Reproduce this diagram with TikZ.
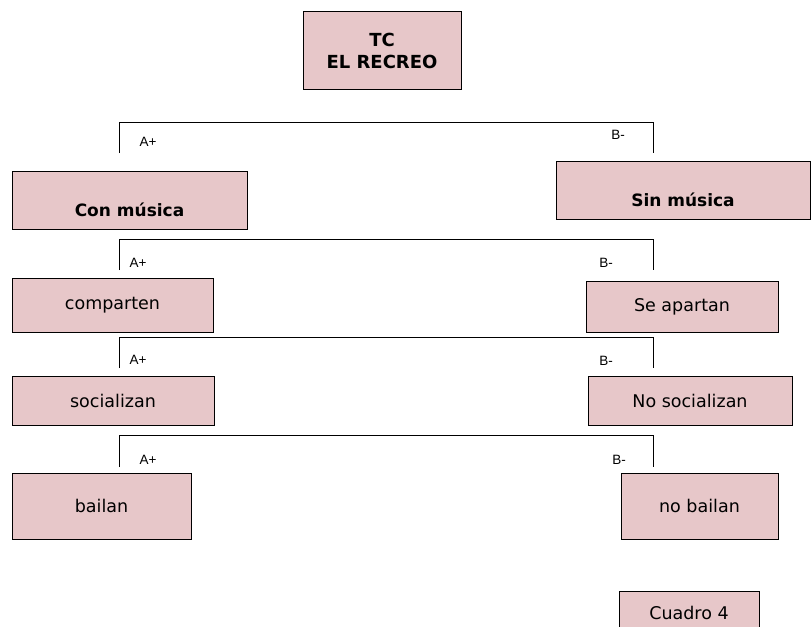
\documentclass[tikz,border=0pt]{standalone}
\usepackage{fontspec}
\setmainfont{DejaVu Sans}
\newfontfamily\etiqfont{Liberation Sans}
\usepackage{tikz}
\definecolor{rosa}{RGB}{231,199,201}

\tikzset{
  caja/.style={draw, thick, fill=rosa, inner sep=0pt, font=\fontsize{17.5}{20}\selectfont},
  rama/.style={draw, semithick},
  etiq/.style={font=\etiqfont\fontsize{13.5}{15}\selectfont}
}

\begin{document}
\begin{tikzpicture}[x=1pt,y=-1pt]
  \useasboundingbox (0,0) rectangle (812,627);
  \clip (0,0) rectangle (812,627);
  \fill[white] (0,0) rectangle (812,627);

  % cajas
  \node[caja, minimum width=158pt, minimum height=78pt, align=center, font=\fontsize{18}{22}\selectfont\bfseries] (tc) at (382,50.5) {TC\\EL RECREO};
  \node[caja, minimum width=235pt, text height=45pt, text depth=13pt, font=\fontsize{17}{20}\selectfont\bfseries] (con) at (129.5,200) {Con música};
  \node[caja, minimum width=254pt, text height=45pt, text depth=13pt, font=\fontsize{17}{20}\selectfont\bfseries] (sin) at (683,190) {Sin música};
  \node[caja, minimum width=201pt, minimum height=54pt] (comp) at (112.5,305) {comparten};
  \node[caja, minimum width=192pt, minimum height=51pt] (aparta) at (682,306.5) {Se apartan};
  \node[caja, minimum width=202pt, minimum height=49pt] (soc) at (113,400.5) {socializan};
  \node[caja, minimum width=204pt, minimum height=49pt] (nosoc) at (690,400.5) {No socializan};
  \node[caja, minimum width=179pt, minimum height=66pt] (bai) at (101.5,506) {bailan};
  \node[caja, minimum width=157pt, minimum height=66pt] (nobai) at (699.5,506) {no bailan};
  \node[caja, minimum width=140pt, minimum height=44pt] (cuadro) at (689,613) {Cuadro 4};

  % ramas
  \foreach \n/\yt/\yb in {1/122/153, 2/239/270, 3/337/368, 4/435/467}{
    \coordinate (ia\n) at (119,\yb);
    \coordinate (ta\n) at (119,\yt);
    \coordinate (tb\n) at (653,\yt);
    \coordinate (ib\n) at (653,\yb);
    \draw[rama] (ia\n) -- (ta\n) -- (tb\n) -- (ib\n);
  }

  % etiquetas
  \node[etiq] (a1) at (148,142) {A+};
  \node[etiq] (b1) at (618,135) {B-};
  \node[etiq] (a2) at (138,263) {A+};
  \node[etiq] (b2) at (606,263) {B-};
  \node[etiq] (a3) at (138,360) {A+};
  \node[etiq] (b3) at (606,361) {B-};
  \node[etiq] (a4) at (148,460) {A+};
  \node[etiq] (b4) at (619,460) {B-};
\end{tikzpicture}
\end{document}
